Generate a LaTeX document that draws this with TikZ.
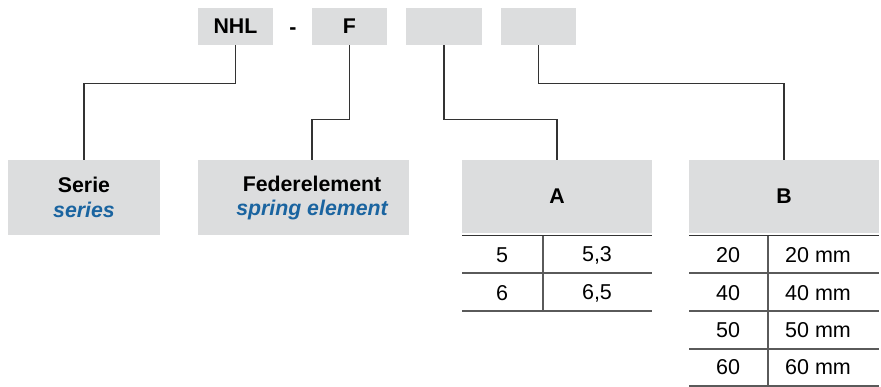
\documentclass[tikz,border=0pt]{standalone}
\usepackage{fontspec}
\setmainfont{Liberation Sans}
\definecolor{boxgray}{HTML}{DCDDDE}
\definecolor{lineg}{HTML}{333333}
\definecolor{rowline}{HTML}{5A5A5A}
\definecolor{engblue}{HTML}{1A64A0}
\tikzset{
  gbox/.style={fill=boxgray, draw=none, inner sep=0pt},
  conn/.style={draw=lineg, line width=1.3pt},
  hline/.style={draw=lineg, line width=1.6pt},
  rline/.style={draw=rowline, line width=1.3pt},
  celltxt/.style={inner sep=0pt, font=\fontsize{21.5}{25}\selectfont},
  bigtxt/.style={font=\fontsize{21.3}{24.5}\selectfont\bfseries, align=center},
}
\begin{document}
\begin{tikzpicture}[x=1pt,y=-1pt]
\useasboundingbox (0,0) rectangle (881,387);
% top code boxes
\node[gbox, minimum width=75pt, minimum height=37pt, bigtxt] (nhl) at (235.5,26.5) {NHL};
\node[bigtxt, inner sep=0pt, anchor=base] (dash) at (293,34.5) {-};
\node[gbox, minimum width=75pt, minimum height=37pt, bigtxt] (f) at (349.5,26.5) {F};
\node[gbox, minimum width=76pt, minimum height=37pt] (c) at (444,26.5) {};
\node[gbox, minimum width=75pt, minimum height=37pt] (d) at (538.5,26.5) {};
% description boxes
\node[gbox, minimum width=152pt, minimum height=75pt, bigtxt] (serie) at (84,197.5)
  {Serie\\{\color{engblue}\itshape series}};
\node[gbox, minimum width=211pt, minimum height=75pt] (fed) at (303.5,197.5) {};
\node[bigtxt, inner sep=0pt] (fedtext) at (312,198)
  {Federelement\\{\color{engblue}\itshape spring element}};
\coordinate (fedin) at (312,160);
\node[gbox, minimum width=190pt, minimum height=73pt, bigtxt] (A) at (557,196.5) {A};
\node[gbox, minimum width=190pt, minimum height=73pt, bigtxt] (B) at (784,196.5) {B};
% connectors
\draw[conn] (nhl.south) -- ++(0,38) -| (serie.north);
\draw[conn] (f.south) -- ++(0,74) -| (fedin);
\draw[conn] (c.south) -- ++(0,74) -| (A.north);
\draw[conn] (d.south) -- ++(0,38) -| (B.north);
% table A
\draw[hline] (462,235.5) -- (652,235.5);
\draw[rline] (462,273) -- (652,273);
\draw[rline] (462,311) -- (652,311);
\draw[rline] (543,236) -- (543,311);
\node[celltxt] (a1) at (502,255) {5};
\node[celltxt] (a1v) at (597,255) {5,3};
\node[celltxt] (a2) at (502,293) {6};
\node[celltxt] (a2v) at (597,293) {6,5};
% table B
\draw[hline] (689,235.5) -- (879,235.5);
\draw[rline] (689,273) -- (879,273);
\draw[rline] (689,311) -- (879,311);
\draw[rline] (689,349) -- (879,349);
\draw[rline] (689,386) -- (879,386);
\draw[rline] (768,236) -- (768,386);
\node[celltxt] (b1) at (728,255) {20};
\node[celltxt] (b1v) at (818,255) {20 mm};
\node[celltxt] (b2) at (728,293) {40};
\node[celltxt] (b2v) at (818,293) {40 mm};
\node[celltxt] (b3) at (728,330) {50};
\node[celltxt] (b3v) at (818,330) {50 mm};
\node[celltxt] (b4) at (728,367) {60};
\node[celltxt] (b4v) at (818,367) {60 mm};
\end{tikzpicture}
\end{document}
